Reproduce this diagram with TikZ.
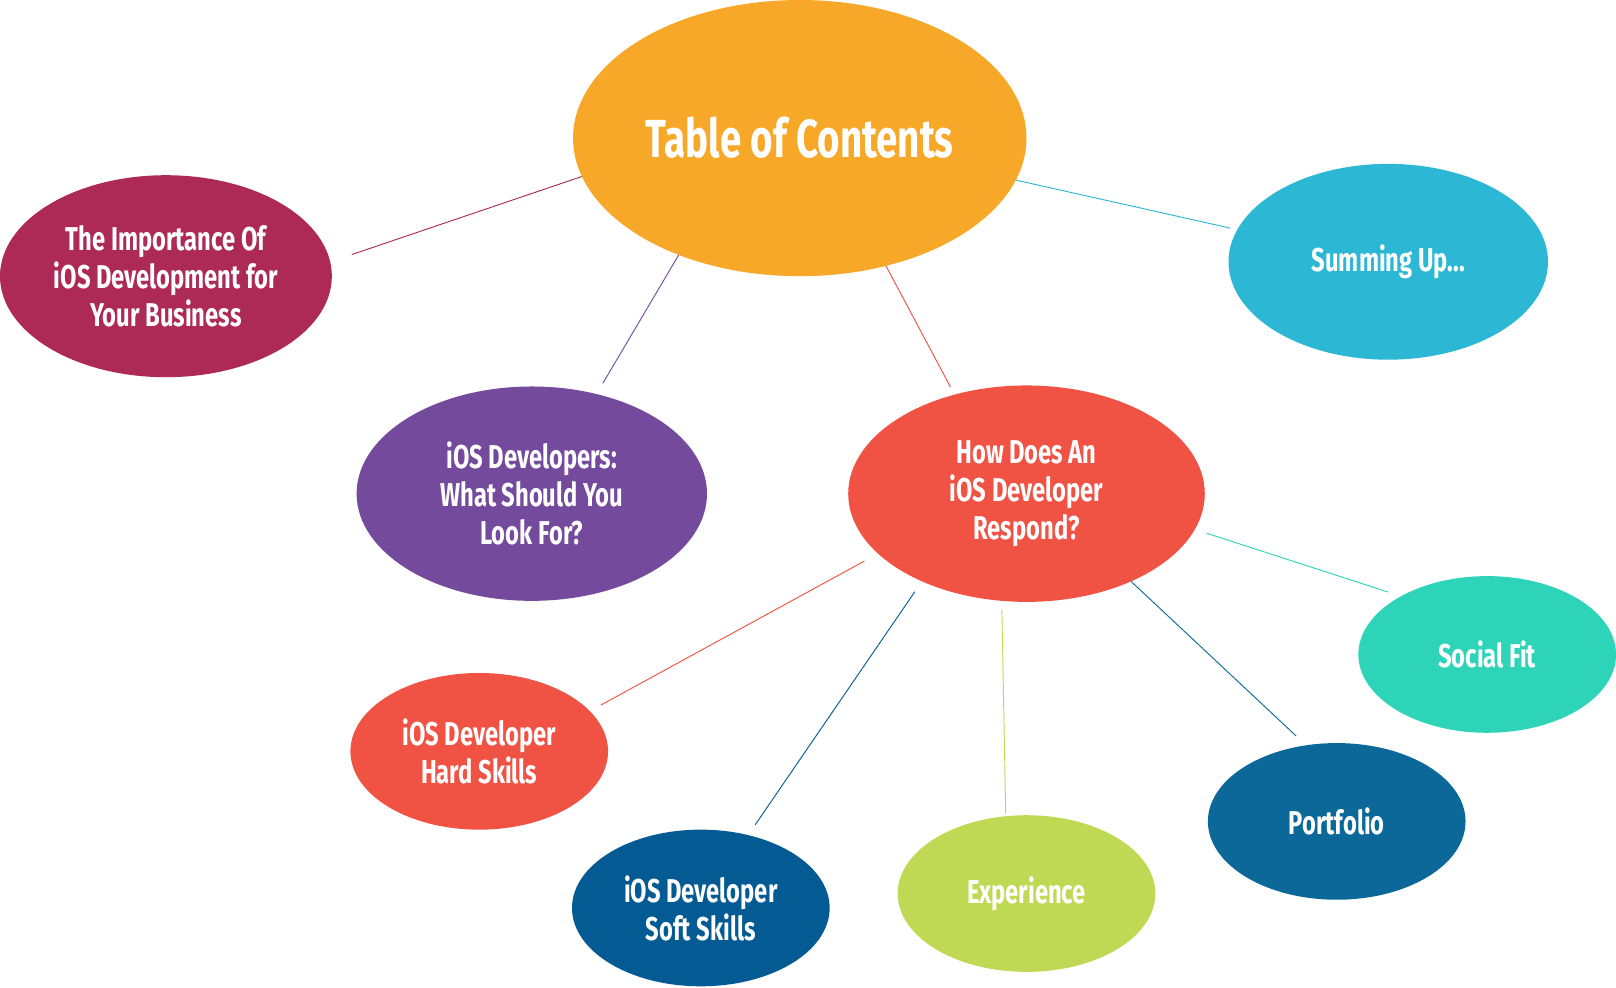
\documentclass[tikz,border=0pt]{standalone}
\usepackage{fontspec}
\setmainfont{Fira Sans}[FakeStretch=0.72]
\usetikzlibrary{shapes.geometric}
\definecolor{tocorange}{HTML}{F8A828}
\definecolor{tocmagenta}{HTML}{AD2A56}
\definecolor{toccyan}{HTML}{2CB7D5}
\definecolor{tocpurple}{HTML}{744A9C}
\definecolor{tocred}{HTML}{F05243}
\definecolor{tocteal}{HTML}{2DD4B8}
\definecolor{tocnavy}{HTML}{045B93}
\definecolor{toclime}{HTML}{C0D954}
\definecolor{tocblue}{HTML}{0B6899}

\begin{document}
\begin{tikzpicture}[x=1pt, y=-1pt,
    bubble/.style={ellipse, fill=#1, text=white, inner sep=0pt, align=center,
        font=\fontsize{32}{37}\selectfont\bfseries},
    small/.style={minimum width=250pt, minimum height=152pt},
    link/.style={draw=#1, line width=0.9pt}]
    \path[fill=white, use as bounding box] (0,0) rectangle (1568,958);

    % Centre
    \node[bubble=tocorange, minimum width=440pt, minimum height=268pt,
        font=\fontsize{52}{58}\selectfont\bfseries] (toc) at (776,134) {Table of Contents};

    % First level
    \node[bubble=tocmagenta, minimum width=322pt, minimum height=196pt] (importance) at (161,268)
        {The Importance Of\\iOS Development for\\Your Business};
    \node[bubble=toccyan, minimum width=310pt, minimum height=190pt] (summing) at (1347,254) {Summing Up...};
    \node[bubble=tocpurple, minimum width=340pt, minimum height=208pt] (lookfor) at (516,479)
        {iOS Developers:\\What Should You\\Look For?};
    \node[bubble=tocred, minimum width=346pt, minimum height=210pt] (respond) at (996,479)
        {How Does An\\iOS Developer\\Respond?};

    % Second level
    \node[bubble=tocteal, small] (social) at (1443,635) {Social Fit};
    \node[bubble=tocred, small] (hard) at (465,729) {iOS Developer\\Hard Skills};
    \node[bubble=tocnavy, small] (soft) at (680,881) {iOS Developer\\Soft Skills};
    \node[bubble=toclime, small] (experience) at (996,867) {Experience};
    \node[bubble=tocblue, small] (portfolio) at (1297,797) {Portfolio};

    % Links
    \draw[link=tocmagenta, shorten >=22pt] (toc.190) -- (importance.5);
    \draw[link=tocpurple, shorten >=12pt] (toc.224) -- (lookfor.57);
    \draw[link=tocred, shorten >=8pt] (toc.304) -- (respond.126);
    \draw[link=toccyan, shorten >=7pt] (toc.349) -- (summing.168);
    \draw[link=tocred, shorten <=15pt, shorten >=12pt] (respond.202) -- (hard.20);
    \draw[link=tocnavy, shorten <=12pt, shorten >=12pt] (respond.220) -- (soft.57);
    \draw[link=toclime, shorten <=8pt, shorten >=3pt] (respond.257) -- (experience.105);
    \draw[link=tocblue, shorten >=13pt] (respond.320) -- (portfolio.112);
    \draw[link=tocteal, shorten <=12pt, shorten >=13pt] (respond.348) -- (social.146);
\end{tikzpicture}
\end{document}
